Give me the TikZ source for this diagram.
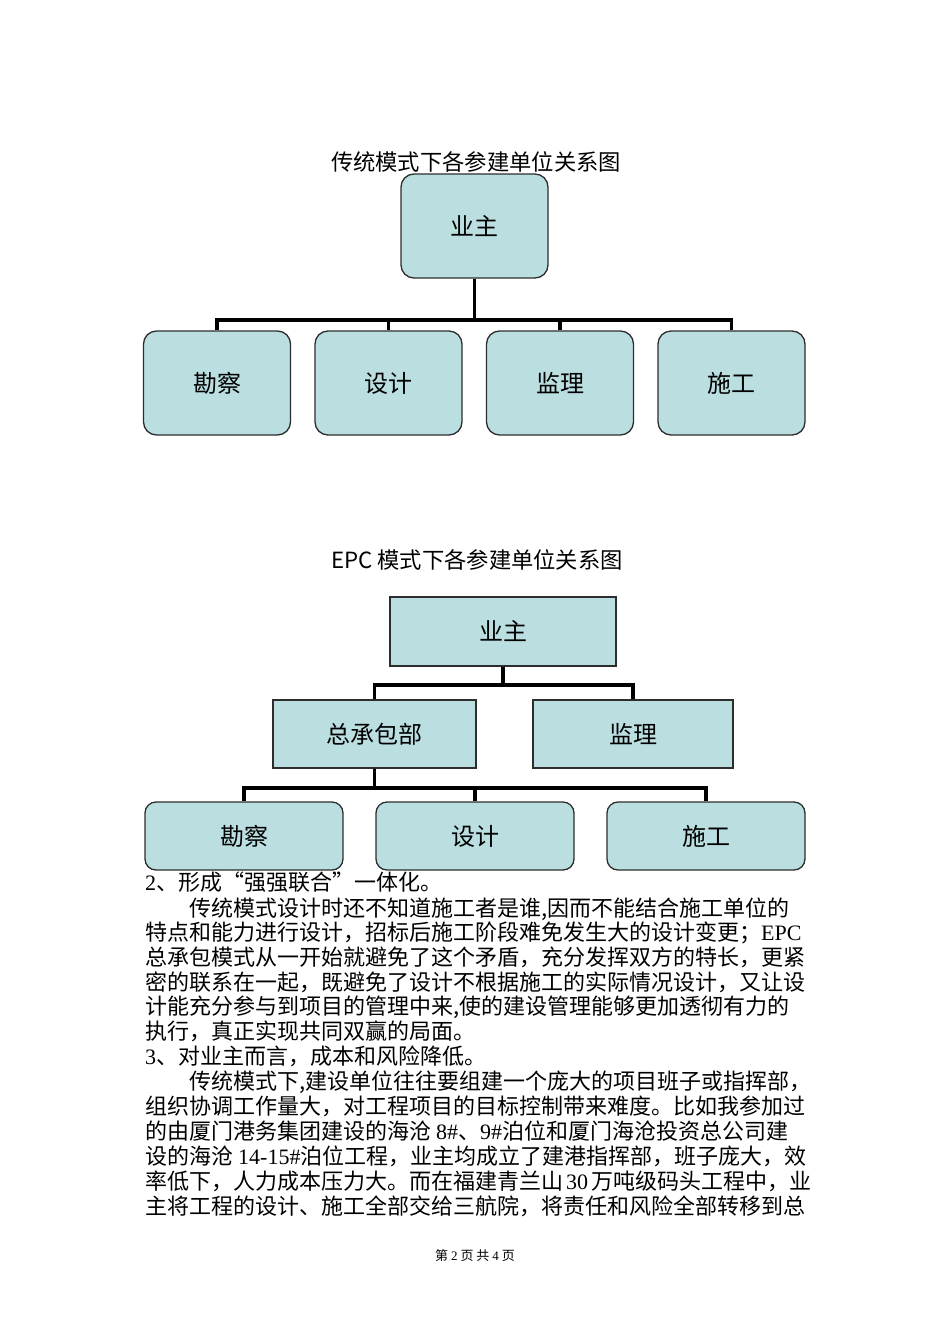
\documentclass[tikz,border=0pt]{standalone}
\usepackage{fontspec}
\setmainfont{Noto Sans CJK SC}
\newfontfamily\lat{Liberation Serif}
\usetikzlibrary{positioning}
\definecolor{boxfill}{RGB}{187,223,225}
\definecolor{boxline}{RGB}{45,45,45}

\begin{document}
\begin{tikzpicture}[x=1pt,y=-1pt]
\tikzstyle{every node}+=[inner sep=0pt]
\tikzstyle{unit}=[draw=boxline, fill=boxfill, line width=1.3pt, font=\fontsize{24}{26}\selectfont]
\tikzstyle{rbox}=[unit, rounded corners=13pt]
\tikzstyle{link}=[line width=3.6pt, black]
\tikzstyle{title}=[font=\fontsize{22.3}{24}\selectfont]
\tikzstyle{body}=[anchor=base west, font=\fontsize{22}{24}\selectfont]
\useasboundingbox [fill=white] (0,0) rectangle (950,1344);
% traditional mode
\node [title] (titleA) at (476,162) {传统模式下各参建单位关系图};
\node [rbox, minimum width=147pt, minimum height=104pt] (ownA) at (474.5,226) {业主};
\node [rbox, minimum width=147pt, minimum height=104pt] (kcA) at (217,383) {勘察};
\node [rbox, minimum width=147pt, minimum height=104pt] (sjA) at (388.5,383) {设计};
\node [rbox, minimum width=147pt, minimum height=104pt] (jlA) at (560,383) {监理};
\node [rbox, minimum width=147pt, minimum height=104pt] (sgA) at (731.5,383) {施工};
\coordinate (busA) at (474.5,320);
\draw [link] (ownA.south) -- (busA);
\draw [link] (kcA.north) |- (busA);
\draw [link] (sjA.north) |- (busA);
\draw [link] (jlA.north) |- (busA);
\draw [link] (sgA.north) |- (busA);
% EPC mode
\node [title] (titleB) at (477,560) {EPC 模式下各参建单位关系图};
\node [unit, minimum width=226pt, minimum height=69pt] (ownB) at (503,631.5) {业主};
\node [unit, minimum width=203pt, minimum height=68pt] (epc) at (374.5,734) {总承包部};
\node [unit, minimum width=200pt, minimum height=68pt] (jlB) at (633,734) {监理};
\node [rbox, rounded corners=11pt, minimum width=198pt, minimum height=68pt] (kcB) at (244,836) {勘察};
\node [rbox, rounded corners=11pt, minimum width=198pt, minimum height=68pt] (sjB) at (475,836) {设计};
\node [rbox, rounded corners=11pt, minimum width=198pt, minimum height=68pt] (sgB) at (706,836) {施工};
\coordinate (busB) at (503,685);
\coordinate (busC) at (374.5,788);
\draw [link] (ownB.south) -- (busB);
\draw [link] (epc.north) |- (busB);
\draw [link] (jlB.north) |- (busB);
\draw [link] (epc.south) -- (busC);
\draw [link] (kcB.north) |- (busC);
\draw [link] (sjB.north) |- (busC);
\draw [link] (sgB.north) |- (busC);
% text below
\node [body] (p1) at (145,890) {{\lat 2}、形成“强强联合”一体化。};
\node [body] (p2) at (189,916) {传统模式设计时还不知道施工者是谁,因而不能结合施工单位的};
\node [body] (p3) at (145,940.5) {特点和能力进行设计，招标后施工阶段难免发生大的设计变更；{\lat EPC}};
\node [body] (p4) at (145,965.5) {总承包模式从一开始就避免了这个矛盾，充分发挥双方的特长，更紧};
\node [body] (p5) at (145,990) {密的联系在一起，既避免了设计不根据施工的实际情况设计，又让设};
\node [body] (p6) at (145,1014.5) {计能充分参与到项目的管理中来,使的建设管理能够更加透彻有力的};
\node [body] (p7) at (145,1039) {执行，真正实现共同双赢的局面。};
\node [body] (p8) at (145,1064) {{\lat 3}、对业主而言，成本和风险降低。};
\node [body] (p9) at (189,1089) {传统模式下,建设单位往往要组建一个庞大的项目班子或指挥部，};
\node [body] (p10) at (145,1114) {组织协调工作量大，对工程项目的目标控制带来难度。比如我参加过};
\node [body] (p11) at (145,1139) {的由厦门港务集团建设的海沧\hspace{5pt}{\lat 8\#}、{\lat 9\#}泊位和厦门海沧投资总公司建};
\node [body] (p12) at (145,1164) {设的海沧\hspace{5pt}{\lat 14-15\#}泊位工程，业主均成立了建港指挥部，班子庞大，效};
\node [body] (p13) at (145,1189) {率低下，人力成本压力大。而在福建青兰山\hspace{3pt}{\lat 30}\hspace{3pt}万吨级码头工程中，业};
\node [body] (p14) at (145,1214) {主将工程的设计、施工全部交给三航院，将责任和风险全部转移到总};
\node [font=\fontsize{13}{15}\selectfont] (foot) at (475,1256) {第 {\lat 2} 页 共 {\lat 4} 页};
\end{tikzpicture}
\end{document}
